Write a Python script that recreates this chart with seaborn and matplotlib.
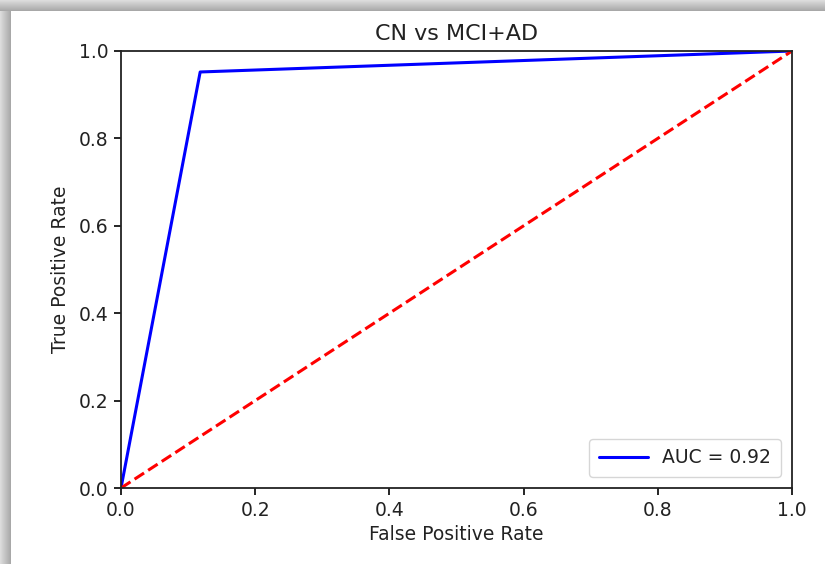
import numpy as np
import pandas as pd
import matplotlib
matplotlib.use("Agg")
import matplotlib.pyplot as plt
import seaborn as sns

# ROC operating points and chance diagonal
fpr = [0.0, 0.118, 1.0]
tpr = [0.0, 0.952, 1.0]
chance = [0.0, 1.0]
auc_label = "AUC = 0.92"
title = "CN vs MCI+AD"
ticks = [0.0, 0.2, 0.4, 0.6, 0.8, 1.0]

sns.set_theme(style="ticks")
plt.rcParams["font.family"] = ["DejaVu Sans"]
plt.rcParams["font.size"] = 13.5

W, H = 825, 564
fig = plt.figure(figsize=(W / 100, H / 100), dpi=100)
fig.patch.set_facecolor("white")

# soft grey shadow along the left and top edges (darker toward the page)
shade = np.linspace(0.86, 0.66, 11)
lax = fig.add_axes([0, 0, 11 / W, 1])
lax.imshow(shade[None, :], cmap="gray", vmin=0, vmax=1, aspect="auto")
lax.axis("off")
tax = fig.add_axes([0, 1 - 11 / H, 1, 11 / H])
tax.imshow(shade[:, None], cmap="gray", vmin=0, vmax=1, aspect="auto")
tax.axis("off")

ax = fig.add_axes([121 / W, 1 - 488 / H, (792 - 121) / W, (488 - 51) / H])
roc = pd.DataFrame({"fpr": fpr, "tpr": tpr})
sns.lineplot(data=roc, x="fpr", y="tpr", sort=False, color="blue", lw=2.2,
             label=auc_label, ax=ax)
sns.lineplot(x=chance, y=chance, color="red", lw=2.2, ax=ax)
ax.lines[-1].set_linestyle((0, (3.7, 1.6)))

ax.set_xlim(0, 1)
ax.set_ylim(0, 1)
ax.set_xticks(ticks)
ax.set_yticks(ticks)
ax.set_xticklabels([f"{t:.1f}" for t in ticks], fontsize=13.5)
ax.set_yticklabels([f"{t:.1f}" for t in ticks], fontsize=13.5)
ax.tick_params(length=5, width=1.2, color="black", labelcolor="#222222", pad=4)
for s in ax.spines.values():
    s.set_color("#222222")
    s.set_linewidth(1.3)
ax.set_xlabel("False Positive Rate", fontsize=13.5, color="#222222", labelpad=4)
ax.set_ylabel("True Positive Rate", fontsize=13.5, color="#222222", labelpad=6)
ax.set_title(title, fontsize=16, color="#222222", pad=8)
leg = ax.legend(loc="lower right", fontsize=13.5, frameon=True, handlelength=2.6,
                borderpad=0.5, borderaxespad=0.6)
leg.get_frame().set_edgecolor("#cccccc")
for t in leg.get_texts():
    t.set_color("#222222")

fig.savefig("out.png", dpi=100, facecolor="white")
